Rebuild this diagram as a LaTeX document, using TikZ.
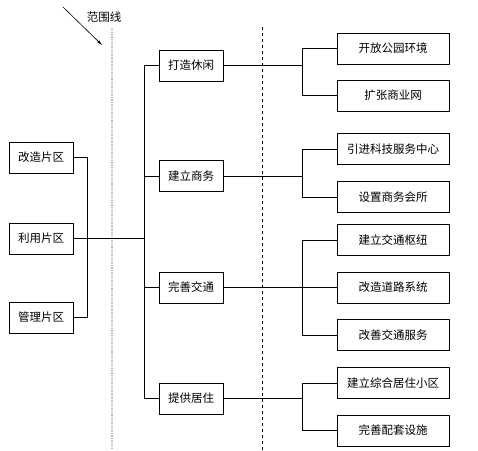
\documentclass[tikz,border=0pt]{standalone}
\usepackage{fontspec}
\newfontfamily\cjk{Noto Sans CJK SC}
\usetikzlibrary{arrows.meta}
\begin{document}
\begin{tikzpicture}[
    x=1pt, y=-1pt,
    font=\cjk\fontsize{11.5}{13}\selectfont,
    pq/.style={draw, line width=0.9pt, minimum width=64pt, minimum height=31pt, inner sep=1pt},
    st/.style={pq},
    az/.style={draw, line width=0.9pt, minimum width=112pt, minimum height=31pt, inner sep=1pt},
    cn/.style={line width=0.6pt},
  ]
  \useasboundingbox (0,0) rectangle (478,450);

  % --- linee di riferimento ---
  \draw[gray!55, densely dotted, line width=1.1pt] (112,28) -- (112,450);
  \draw[dashed, line width=0.5pt] (262,27) -- (262,450);
  \coordinate (fw) at (63,7);
  \coordinate (fp) at (102,45);
  \draw[-{Stealth[length=6pt,width=3pt]}, line width=0.6pt] (fw) -- (fp);
  \node[inner sep=1pt] (fwx) at (104,17) {范围线};

  % --- colonne dei bus ---
  \coordinate (lb) at (87,0);
  \coordinate (mb) at (144,0);
  \coordinate (rb) at (302,0);

  % --- piani di area ---
  \node[pq] (gz) at (41,157.5) {改造片区};
  \node[pq] (ly) at (41,238.5) {利用片区};
  \node[pq] (gl) at (41,317.5) {管理片区};

  % --- strategie ---
  \node[st] (dz) at (191,65.5) {打造休闲};
  \node[st] (js) at (191,176) {建立商务};
  \node[st] (wj) at (191,287.5) {完善交通};
  \node[st] (tj) at (191,398.5) {提供居住};

  % --- azioni ---
  \node[az] (kf) at (393,48.5) {开放公园环境};
  \node[az] (kz) at (393,95.5) {扩张商业网};
  \node[az] (yj) at (393,149) {引进科技服务中心};
  \node[az] (sz) at (393,197) {设置商务会所};
  \node[az] (jj) at (393,240) {建立交通枢纽};
  \node[az] (gd) at (393,287.5) {改造道路系统};
  \node[az] (gs) at (393,335) {改善交通服务};
  \node[az] (jz) at (393,383) {建立综合居住小区};
  \node[az] (ws) at (393,430.5) {完善配套设施};

  % --- collegamenti a sinistra ---
  \draw[cn] (gz.east) -- (gz.east -| lb) -- (gl.east -| lb) -- (gl.east);
  \draw[cn] (ly.east) -- (ly.east -| mb);
  \draw[cn] (dz.west) -- (dz.west -| mb) -- (tj.west -| mb) -- (tj.west);
  \draw[cn] (js.west) -- (js.west -| mb);
  \draw[cn] (wj.west) -- (wj.west -| mb);

  % --- collegamenti a destra ---
  \draw[cn] (dz.east) -- (dz.east -| rb);
  \draw[cn] (kf.west) -- (kf.west -| rb) -- (kz.west -| rb) -- (kz.west);
  \draw[cn] (js.east) -- (js.east -| rb);
  \draw[cn] (yj.west) -- (yj.west -| rb) -- (sz.west -| rb) -- (sz.west);
  \draw[cn] (wj.east) -- (gd.west);
  \draw[cn] (jj.west) -- (jj.west -| rb) -- (gs.west -| rb) -- (gs.west);
  \draw[cn] (tj.east) -- (tj.east -| rb);
  \draw[cn] (jz.west) -- (jz.west -| rb) -- (ws.west -| rb) -- (ws.west);

\end{tikzpicture}
\end{document}
